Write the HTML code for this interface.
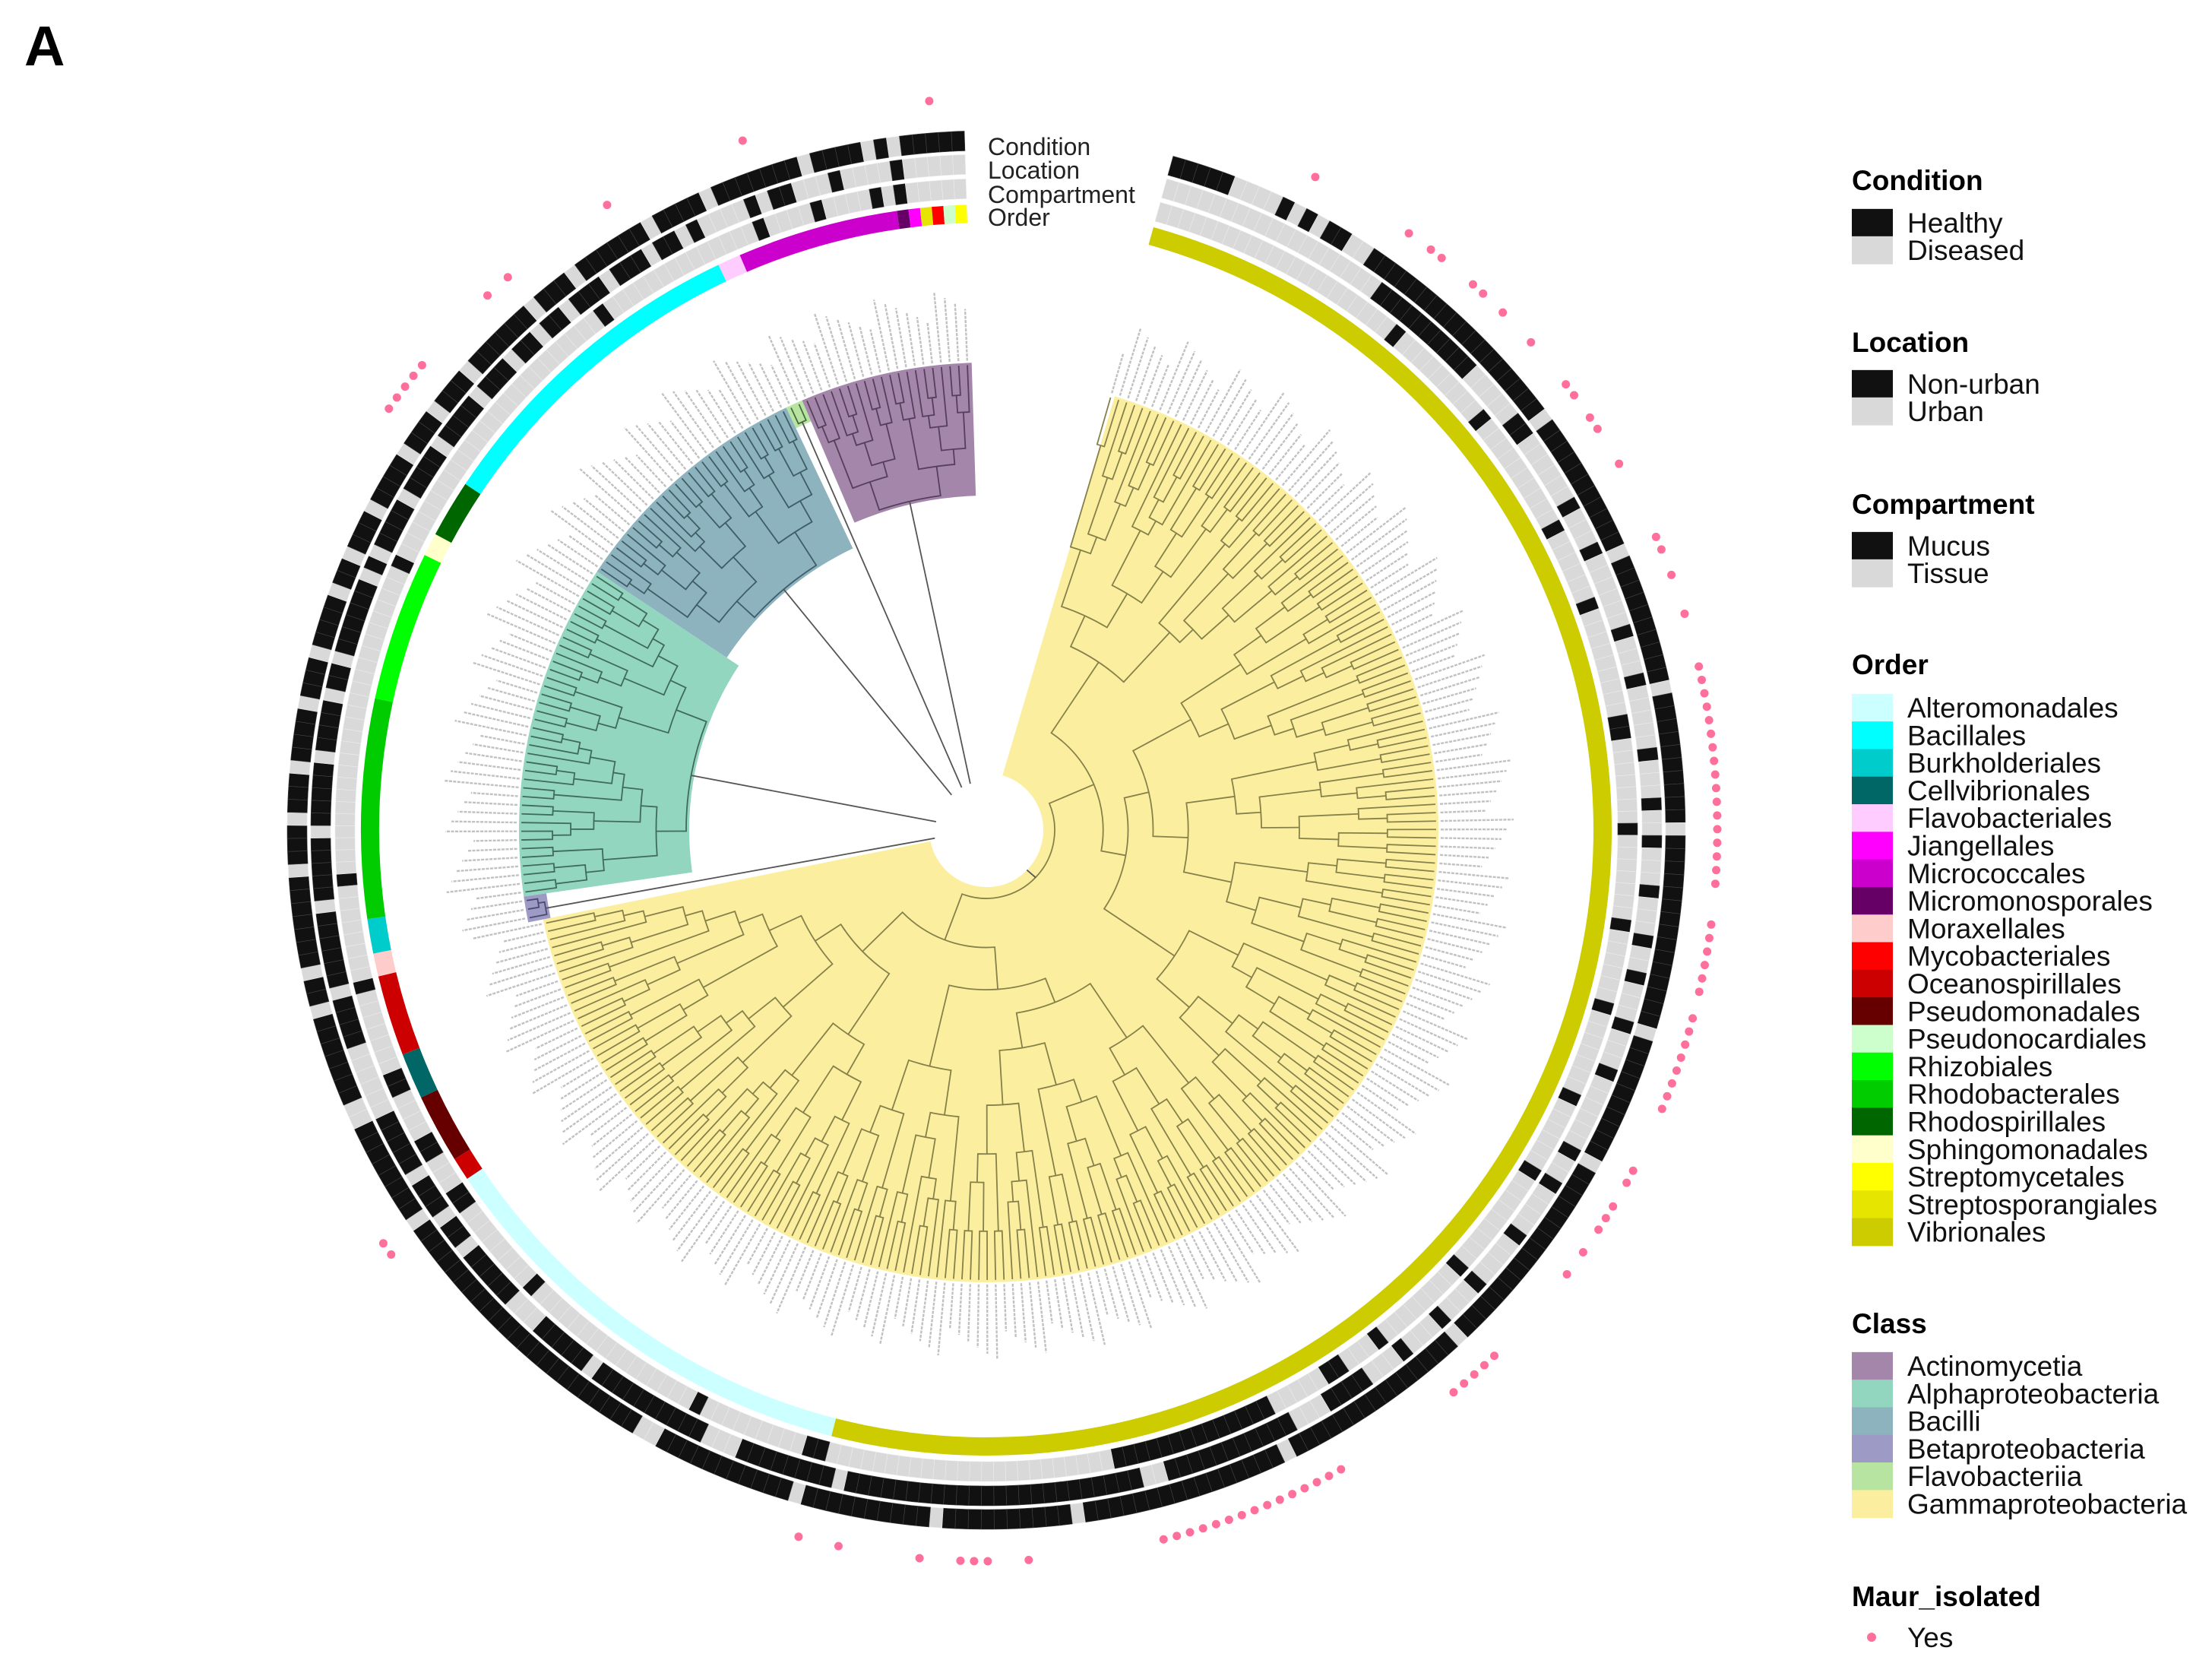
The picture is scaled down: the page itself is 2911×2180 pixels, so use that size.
<!DOCTYPE html>
<html><head><meta charset="utf-8"><title>Phylogenetic tree</title>
<style>
html,body{margin:0;padding:0;background:#fff;}
svg{display:block;font-family:"Liberation Sans",Arial,sans-serif;}
</style></head>
<body>
<svg id="chart" width="2911" height="2180" viewBox="0 0 2911 2180" xmlns="http://www.w3.org/2000/svg">
<rect width="2911" height="2180" fill="#fff"/>
<text x="32" y="86" font-size="74" font-weight="bold" fill="#000">A</text>
<g id="wedges"></g>
<g id="tree"></g>
<g id="tiplabels"></g>
<g id="rings"></g>
<g id="dots"></g>
<g font-size="32" fill="#222">
<text x="1300" y="204">Condition</text>
<text x="1300" y="235">Location</text>
<text x="1300" y="267">Compartment</text>
<text x="1300" y="297">Order</text>
</g>
<g id="legend"></g>
</svg>
<script>
// ---- data ----
const classNames = ["Gammaproteobacteria","Betaproteobacteria","Alphaproteobacteria","Bacilli","Flavobacteriia","Actinomycetia"];
const classTipCounts = [227,3,39,29,2,20];
const classInnerR = [75,585,391,410,585,440];
const orderNames = ["Vibrionales","Alteromonadales","Oceanospirillales","Pseudomonadales","Cellvibrionales","Oceanospirillales","Moraxellales","Burkholderiales","Rhodobacterales","Rhizobiales","Sphingomonadales","Rhodospirillales","Bacillales","Flavobacteriales","Micrococcales","Micromonosporales","Jiangellales","Streptosporangiales","Mycobacteriales","Pseudonocardiales","Streptomycetales"];
const orderTipCounts = [167,39,2,6,4,7,2,3,19,13,2,5,29,2,14,1,1,1,1,1,1];
const conditionValues = (
"1111100001010110011111111111111111101111"+
"1111111011111111110111111111101111111111"+
"1111101111111111011111111111111110111111"+
"1111111110111111111111111101111111111011"+
"1111111101111111111100111111111111111111"+
"1111101111111100111111101101111111011101"+
"1101111011101111011011101111011101110111"+
"1110111011111101111011111110111101011111").split("");
const locationValues = (
"0000000000000000000111111111100000110000"+
"0010001000000100010000010001001000100010"+
"0100010001000000100100001000010001000100"+
"0111100011111111111001111111111111111111"+
"1111101111111100011111111110111110001111"+
"1011011101111100000011110111111011111011"+
"1110111101101111110101111011110111101110"+
"1101101110111011010000101100010000100000").split("");
const compartmentValues = (
"0000000000000000000000100000000010000000"+
"0001000000100000000011000000010000000100"+
"0000100000001000000100000000010000000010"+
"0011000001111111111111100000000000000000"+
"0000000110000000001000000000000000010000"+
"0000110001100001100000001000000001000000"+
"0000000000000000000010000000000000000000"+
"0000000100000000000000100001000010100000").split("");
const isolatedTips = [10,18,20,21,24,25,27,30,34,35,37,38,41,47,48,50,53,57,58,59,60,61,62,63,64,65,66,67,68,69,70,71,72,73,76,77,78,79,80,81,83,84,85,86,87,88,89,90,95,96,98,99,100,102,104,112,113,114,115,116,126,127,128,129,130,131,132,133,134,135,136,137,138,139,140,150,153,154,155,158,164,167,204,205,270,271,272,273,274,281,283,292,303,317];

// ---- geometry ----
const NS="http://www.w3.org/2000/svg";
const CX=1298, CY=1092, A0=15.5, A1=358.2;
const N = conditionValues.length;
const STEP=(A1-A0)/N;
function tipAngle(i){return A0+(i+0.5)*STEP;}
function pol(r,a){const t=a*Math.PI/180;return [CX+r*Math.sin(t), CY-r*Math.cos(t)];}
function sector(r0,r1,a0,a1){
  const p1=pol(r1,a0),p2=pol(r1,a1),p3=pol(r0,a1),p4=pol(r0,a0);
  const lg=(a1-a0)>180?1:0;
  return `M${p1[0]},${p1[1]}A${r1},${r1} 0 ${lg} 1 ${p2[0]},${p2[1]}L${p3[0]},${p3[1]}A${r0},${r0} 0 ${lg} 0 ${p4[0]},${p4[1]}Z`;
}
function mk(tag,attrs,parent){const e=document.createElementNS(NS,tag);for(const k in attrs)e.setAttribute(k,attrs[k]);parent.appendChild(e);return e;}

const classColors={Gammaproteobacteria:"#fbef9f",Betaproteobacteria:"#9d9bc6",Alphaproteobacteria:"#93d6c0",Bacilli:"#8db3bf",Flavobacteriia:"#b7e4a0",Actinomycetia:"#a486ab"};
const classLine={Gammaproteobacteria:"#86804a",Betaproteobacteria:"#4a4a70",Alphaproteobacteria:"#3f6a5d",Bacilli:"#3f5d66",Flavobacteriia:"#4a6a40",Actinomycetia:"#553f5a"};
const orderColors={Alteromonadales:"#ccffff",Bacillales:"#00ffff",Burkholderiales:"#00cccc",Cellvibrionales:"#006666",Flavobacteriales:"#ffccff",Jiangellales:"#ff00ff",Micrococcales:"#cc00cc",Micromonosporales:"#660066",Moraxellales:"#ffcccc",Mycobacteriales:"#ff0000",Oceanospirillales:"#cc0000",Pseudomonadales:"#660000",Pseudonocardiales:"#ccffcc",Rhizobiales:"#00ff00",Rhodobacterales:"#00cc00",Rhodospirillales:"#006600",Sphingomonadales:"#ffffcc",Streptomycetales:"#ffff00",Streptosporangiales:"#e5e500",Vibrionales:"#cccc00"};

const gW=document.getElementById('wedges'), gT=document.getElementById('tree'), gL=document.getElementById('tiplabels'), gR=document.getElementById('rings'), gD=document.getElementById('dots'), gLeg=document.getElementById('legend');

// ---- class wedges and trees ----
const ratios=[0.5,0.3,0.62,0.45,0.25,0.55,0.7,0.4,0.35,0.6];
let start=0; const cladeRoots=[];
classNames.forEach((cn,ci)=>{
  const n=classTipCounts[ci], lo=start, hi=start+n-1;
  const rTip = ci===0?592:612;
  const a0=tipAngle(lo)-STEP/2, a1=tipAngle(hi)+STEP/2;
  const w=mk('path',{d:sector(classInnerR[ci],rTip+3,ci===0?a0+1:a0,a1),fill:classColors[cn]},gW);
  
  
  const rBase = ci===0?90:classInnerR[ci]+4;
  const col=classLine[cn];
  function build(l,h,d){
    if(l===h) return {a:tipAngle(l), r:rTip};
    const m=h-l+1;
    const k=Math.max(1,Math.min(m-1,Math.round(m*ratios[(d+l)%ratios.length])));
    const L=build(l,l+k-1,d+1), R=build(l+k,h,d+1);
    const r = (m===n)?rBase:rTip-(rTip-rBase)*Math.log(m)/Math.log(Math.max(n,2));
    const p1=pol(r,L.a),p2=pol(r,R.a);
    const q1=pol(L.r,L.a), q2=pol(R.r,R.a);
    const ln=mk('path',{d:`M${q1[0]},${q1[1]}L${p1[0]},${p1[1]}A${r},${r} 0 0 1 ${p2[0]},${p2[1]}L${q2[0]},${q2[1]}`,fill:'none',stroke:col,'stroke-width':1.8},gT);
    
    
    return {a:(L.a+R.a)/2, r:r};
  }
  const root=build(lo,hi,0);
  cladeRoots.push(root);
  start+=n;
});
cladeRoots.forEach((c,i)=>{
  const p=pol(c.r,c.a);
  const ln=mk('line',{x1:1290,y1:1092,x2:p[0],y2:p[1],stroke:'#555','stroke-width':1.8},gT);
  
  
});
mk('circle',{cx:1300,cy:1097,r:70,fill:'#fff'},gT);

// ---- tip labels (tiny gray text) ----
let cStart=0;
classTipCounts.forEach((n,ci)=>{
  for(let i=cStart;i<cStart+n;i++){
    const a=tipAngle(i); const r0=(ci===0?598:618);
    const len=55+((i*37)%45);
    const p=pol(r0,a), q=pol(r0+len,a);
    const t=mk('line',{x1:p[0],y1:p[1],x2:q[0],y2:q[1],stroke:'#999','stroke-width':2.4,'stroke-dasharray':'4 1.5',opacity:0.6},gL);
    
    
  }
  cStart+=n;
});

// ---- rings ----
const ringDefs=[
  {vals:compartmentValues,r0:831,r1:857,name:'compartment'},
  {vals:locationValues,r0:863,r1:889,name:'location'},
  {vals:conditionValues,r0:894,r1:920,name:'condition'}];
ringDefs.forEach(rd=>{
  for(let i=0;i<N;i++){
    const a=tipAngle(i);
    const c=mk('path',{d:sector(rd.r0,rd.r1,a-STEP/2,a+STEP/2),fill:rd.vals[i]==='1'?'#111':'#d9d9d9',stroke:rd.vals[i]==='1'?'#444':'#ececec','stroke-width':0.6},gR);
    
    
  }
});
let oStart=0;
orderNames.forEach((on,oi)=>{
  const n=orderTipCounts[oi];
  const a0=tipAngle(oStart)-STEP/2, a1=tipAngle(oStart+n-1)+STEP/2;
  const s=mk('path',{d:sector(799,823,a0,a1),fill:orderColors[on]},gR);
  
  
  oStart+=n;
});

// ---- isolated markers ----
isolatedTips.forEach(i=>{
  const p=pol(962,tipAngle(i));
  const d=mk('circle',{cx:p[0],cy:p[1],r:5.5,fill:'#ff6f9c'},gD);
  
  
});

// ---- legend ----
const LX=2437, TX=2510, ROW=36.3, DY=-3;
function title(txt,y){const t=mk('text',{x:LX,y:y+DY,'font-size':37,'font-weight':'bold',fill:'#000'},gLeg);t.textContent=txt;}
function entry(txt,color,yc,dot){
  yc+=DY;
  if(dot){const c=mk('circle',{cx:2463,cy:yc,r:6,fill:color},gLeg);}
  else{const r=mk('rect',{x:LX,y:yc-ROW/2,width:54,height:ROW+0.5,fill:color},gLeg);}
  const t=mk('text',{x:TX,y:yc+13,'font-size':37,fill:'#111'},gLeg);t.textContent=txt;
  
  
}
title('Condition',253); entry('Healthy','#111',296); entry('Diseased','#d9d9d9',332);
title('Location',466); entry('Non-urban','#111',508); entry('Urban','#d9d9d9',544);
title('Compartment',679); entry('Mucus','#111',721); entry('Tissue','#d9d9d9',757);
title('Order',890);
const legendOrders=["Alteromonadales","Bacillales","Burkholderiales","Cellvibrionales","Flavobacteriales","Jiangellales","Micrococcales","Micromonosporales","Moraxellales","Mycobacteriales","Oceanospirillales","Pseudomonadales","Pseudonocardiales","Rhizobiales","Rhodobacterales","Rhodospirillales","Sphingomonadales","Streptomycetales","Streptosporangiales","Vibrionales"];
legendOrders.forEach((o,i)=>entry(o,orderColors[o],934+ROW*i));
title('Class',1757);
const legendClasses=["Actinomycetia","Alphaproteobacteria","Bacilli","Betaproteobacteria","Flavobacteriia","Gammaproteobacteria"];
legendClasses.forEach((c,i)=>entry(c,classColors[c],1800+ROW*i));
title('Maur_isolated',2116); entry('Yes','#ff6f9c',2157,true);
</script>
</body></html>
